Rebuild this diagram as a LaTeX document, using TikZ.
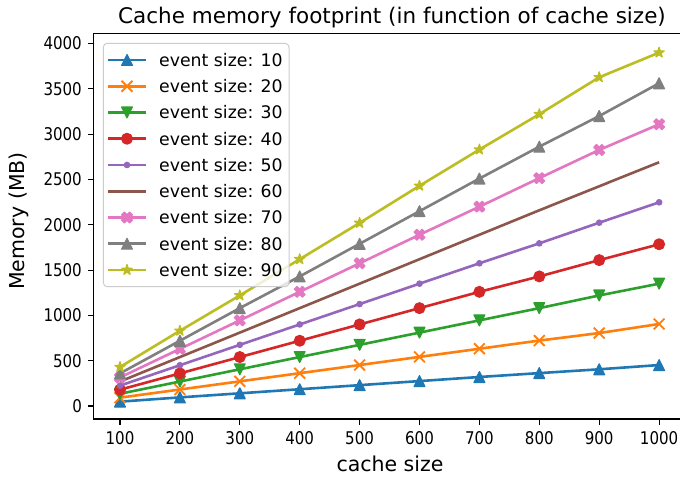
\documentclass[tikz,border=0pt]{standalone}
\usepackage{fontspec}
\setmainfont{DejaVu Sans}
\usetikzlibrary{plotmarks}
\definecolor{c0}{HTML}{1F77B4}
\definecolor{c1}{HTML}{FF7F0E}
\definecolor{c2}{HTML}{2CA02C}
\definecolor{c3}{HTML}{D62728}
\definecolor{c4}{HTML}{9467BD}
\definecolor{c5}{HTML}{8C564B}
\definecolor{c6}{HTML}{E377C2}
\definecolor{c7}{HTML}{7F7F7F}
\definecolor{c8}{HTML}{BCBD22}
\definecolor{lgray}{HTML}{CCCCCC}
\pgfdeclareplotmark{mtriup}{%
  \pgfpathmoveto{\pgfqpoint{0pt}{\pgfplotmarksize}}%
  \pgfpathlineto{\pgfqpoint{-\pgfplotmarksize}{-\pgfplotmarksize}}%
  \pgfpathlineto{\pgfqpoint{\pgfplotmarksize}{-\pgfplotmarksize}}%
  \pgfpathclose\pgfusepathqfillstroke}
\pgfdeclareplotmark{mtridown}{%
  \pgfpathmoveto{\pgfqpoint{0pt}{-\pgfplotmarksize}}%
  \pgfpathlineto{\pgfqpoint{-\pgfplotmarksize}{\pgfplotmarksize}}%
  \pgfpathlineto{\pgfqpoint{\pgfplotmarksize}{\pgfplotmarksize}}%
  \pgfpathclose\pgfusepathqfillstroke}
\pgfdeclareplotmark{mxx}{%
  \pgfpathmoveto{\pgfqpoint{-\pgfplotmarksize}{-\pgfplotmarksize}}%
  \pgfpathlineto{\pgfqpoint{\pgfplotmarksize}{\pgfplotmarksize}}%
  \pgfpathmoveto{\pgfqpoint{-\pgfplotmarksize}{\pgfplotmarksize}}%
  \pgfpathlineto{\pgfqpoint{\pgfplotmarksize}{-\pgfplotmarksize}}%
  \pgfusepathqstroke}
\pgfdeclareplotmark{mxfill}{%
  \pgfpathmoveto{\pgfqpoint{-.5\pgfplotmarksize}{-\pgfplotmarksize}}%
  \pgfpathlineto{\pgfqpoint{0pt}{-.5\pgfplotmarksize}}%
  \pgfpathlineto{\pgfqpoint{.5\pgfplotmarksize}{-\pgfplotmarksize}}%
  \pgfpathlineto{\pgfqpoint{\pgfplotmarksize}{-.5\pgfplotmarksize}}%
  \pgfpathlineto{\pgfqpoint{.5\pgfplotmarksize}{0pt}}%
  \pgfpathlineto{\pgfqpoint{\pgfplotmarksize}{.5\pgfplotmarksize}}%
  \pgfpathlineto{\pgfqpoint{.5\pgfplotmarksize}{\pgfplotmarksize}}%
  \pgfpathlineto{\pgfqpoint{0pt}{.5\pgfplotmarksize}}%
  \pgfpathlineto{\pgfqpoint{-.5\pgfplotmarksize}{\pgfplotmarksize}}%
  \pgfpathlineto{\pgfqpoint{-\pgfplotmarksize}{.5\pgfplotmarksize}}%
  \pgfpathlineto{\pgfqpoint{-.5\pgfplotmarksize}{0pt}}%
  \pgfpathlineto{\pgfqpoint{-\pgfplotmarksize}{-.5\pgfplotmarksize}}%
  \pgfpathclose\pgfusepathqfillstroke}
\pgfdeclareplotmark{mstar}{%
  \pgfpathmoveto{\pgfqpoint{0pt}{\pgfplotmarksize}}%
  \pgfpathlineto{\pgfqpoint{-.2245\pgfplotmarksize}{.309\pgfplotmarksize}}%
  \pgfpathlineto{\pgfqpoint{-.9511\pgfplotmarksize}{.309\pgfplotmarksize}}%
  \pgfpathlineto{\pgfqpoint{-.3633\pgfplotmarksize}{-.118\pgfplotmarksize}}%
  \pgfpathlineto{\pgfqpoint{-.5878\pgfplotmarksize}{-.809\pgfplotmarksize}}%
  \pgfpathlineto{\pgfqpoint{0pt}{-.382\pgfplotmarksize}}%
  \pgfpathlineto{\pgfqpoint{.5878\pgfplotmarksize}{-.809\pgfplotmarksize}}%
  \pgfpathlineto{\pgfqpoint{.3633\pgfplotmarksize}{-.118\pgfplotmarksize}}%
  \pgfpathlineto{\pgfqpoint{.9511\pgfplotmarksize}{.309\pgfplotmarksize}}%
  \pgfpathlineto{\pgfqpoint{.2245\pgfplotmarksize}{.309\pgfplotmarksize}}%
  \pgfpathclose\pgfusepathqfillstroke}
\newcommand\tkfont{\fontsize{17.5}{20}\selectfont}
\newcommand\lgfont{\fontsize{17.3}{20}\selectfont}
\newcommand\lbfont{\fontsize{20.5}{24}\selectfont}
\newcommand\ttlfont{\fontsize{21.5}{25}\selectfont}
\tikzset{
  ser/.style={line width=2.6pt, line join=round},
  mk/.style={mark size=5.4pt, mark options={solid, line width=1.2pt}},
  s1/.style={ser, c0, mk, mark=mtriup},
  s2/.style={ser, c1, mark=mxx, mark size=5.4pt, mark options={solid, line width=1.9pt}},
  s3/.style={ser, c2, mk, mark=mtridown},
  s4/.style={ser, c3, mk, mark=*},
  s5/.style={ser, c4, mk, mark=*, mark size=2.7pt},
  s6/.style={ser, c5},
  s7/.style={ser, c6, mk, mark=mxfill},
  s8/.style={ser, c7, mk, mark=mtriup},
  s9/.style={ser, c8, mk, mark=mstar},
  tk/.style={line width=1.1pt, black},
  ticklab/.style={inner sep=0pt, font=\tkfont, xscale=0.86},
  lgtext/.style={anchor=west, inner sep=0pt, font=\lgfont},
}
\begin{document}
\begin{tikzpicture}[x=1pt,y=1pt]
\useasboundingbox (0,0) rectangle (680,479);
\fill[white] (0,0) rectangle (680,479);

% data series
\begin{scope}[shift={(60.1pt,73pt)}, x=0.599pt, y=0.0906pt]
\draw[s1] plot coordinates {(100,48) (200,95) (300,140) (400,185) (500,230) (600,275) (700,320) (800,363) (900,405) (1000,452)};
\draw[s2] plot coordinates {(100,92) (200,182) (300,272) (400,362) (500,452) (600,542) (700,632) (800,722) (900,805) (1000,905)};
\draw[s3] plot coordinates {(100,135) (200,270) (300,405) (400,540) (500,675) (600,810) (700,945) (800,1080) (900,1220) (1000,1350)};
\draw[s4] plot coordinates {(100,180) (200,360) (300,540) (400,720) (500,900) (600,1080) (700,1260) (800,1430) (900,1610) (1000,1785)};
\draw[s5] plot coordinates {(100,225) (200,450) (300,675) (400,900) (500,1125) (600,1350) (700,1575) (800,1795) (900,2023) (1000,2248)};
\draw[s6] plot coordinates {(100,270) (200,540) (300,810) (400,1080) (500,1350) (600,1620) (700,1890) (800,2160) (900,2425) (1000,2690)};
\draw[s7] plot coordinates {(100,315) (200,630) (300,945) (400,1260) (500,1575) (600,1890) (700,2200) (800,2515) (900,2826) (1000,3109)};
\draw[s8] plot coordinates {(100,360) (200,720) (300,1080) (400,1430) (500,1790) (600,2150) (700,2510) (800,2862) (900,3200) (1000,3562)};
\draw[s9] plot coordinates {(100,430) (200,830) (300,1220) (400,1620) (500,2020) (600,2430) (700,2830) (800,3220) (900,3628) (1000,3900)};
\end{scope}

% axes frame
\draw[tk] (93.5,60) rectangle (686,445.5);
\foreach \c in {100,200,...,1000}{
  \pgfmathsetmacro\xx{60.1+0.599*\c}
  \draw[tk] (\xx,60) -- (\xx,54);
  \node[ticklab, anchor=north] at (\xx,48) {\c};
}
\foreach \v in {0,500,...,4000}{
  \pgfmathsetmacro\yy{73+0.0906*\v}
  \draw[tk] (93.5,\yy) -- (87.5,\yy);
  \node[ticklab, anchor=east] at (82,\yy) {\v};
}

% labels
\node[font=\ttlfont, anchor=base] (title) at (392,455.5) {Cache memory footprint (in function of cache size)};
\node[font=\lbfont] (xlab) at (390,15) {cache size};
\node[font=\lbfont, rotate=90] (ylab) at (19,258) {Memory (MB)};

% legend
\draw[draw=lgray, fill=white, fill opacity=0.8, rounded corners=4pt, line width=1pt] (103.3,435.7) rectangle (289,192.3);
\draw[s1, mark indices={2}] plot coordinates {(108,419) (127,419) (146,419)};
\node[lgtext] at (159,419) {event size: 10};
\draw[s2, mark indices={2}] plot coordinates {(108,392.75) (127,392.75) (146,392.75)};
\node[lgtext] at (159,392.75) {event size: 20};
\draw[s3, mark indices={2}] plot coordinates {(108,366.5) (127,366.5) (146,366.5)};
\node[lgtext] at (159,366.5) {event size: 30};
\draw[s4, mark indices={2}] plot coordinates {(108,340.25) (127,340.25) (146,340.25)};
\node[lgtext] at (159,340.25) {event size: 40};
\draw[s5, mark indices={2}] plot coordinates {(108,314) (127,314) (146,314)};
\node[lgtext] at (159,314) {event size: 50};
\draw[s6] (108,287.75) -- (146,287.75);
\node[lgtext] at (159,287.75) {event size: 60};
\draw[s7, mark indices={2}] plot coordinates {(108,261.5) (127,261.5) (146,261.5)};
\node[lgtext] at (159,261.5) {event size: 70};
\draw[s8, mark indices={2}] plot coordinates {(108,235.25) (127,235.25) (146,235.25)};
\node[lgtext] at (159,235.25) {event size: 80};
\draw[s9, mark indices={2}] plot coordinates {(108,209) (127,209) (146,209)};
\node[lgtext] at (159,209) {event size: 90};
\end{tikzpicture}
\end{document}
